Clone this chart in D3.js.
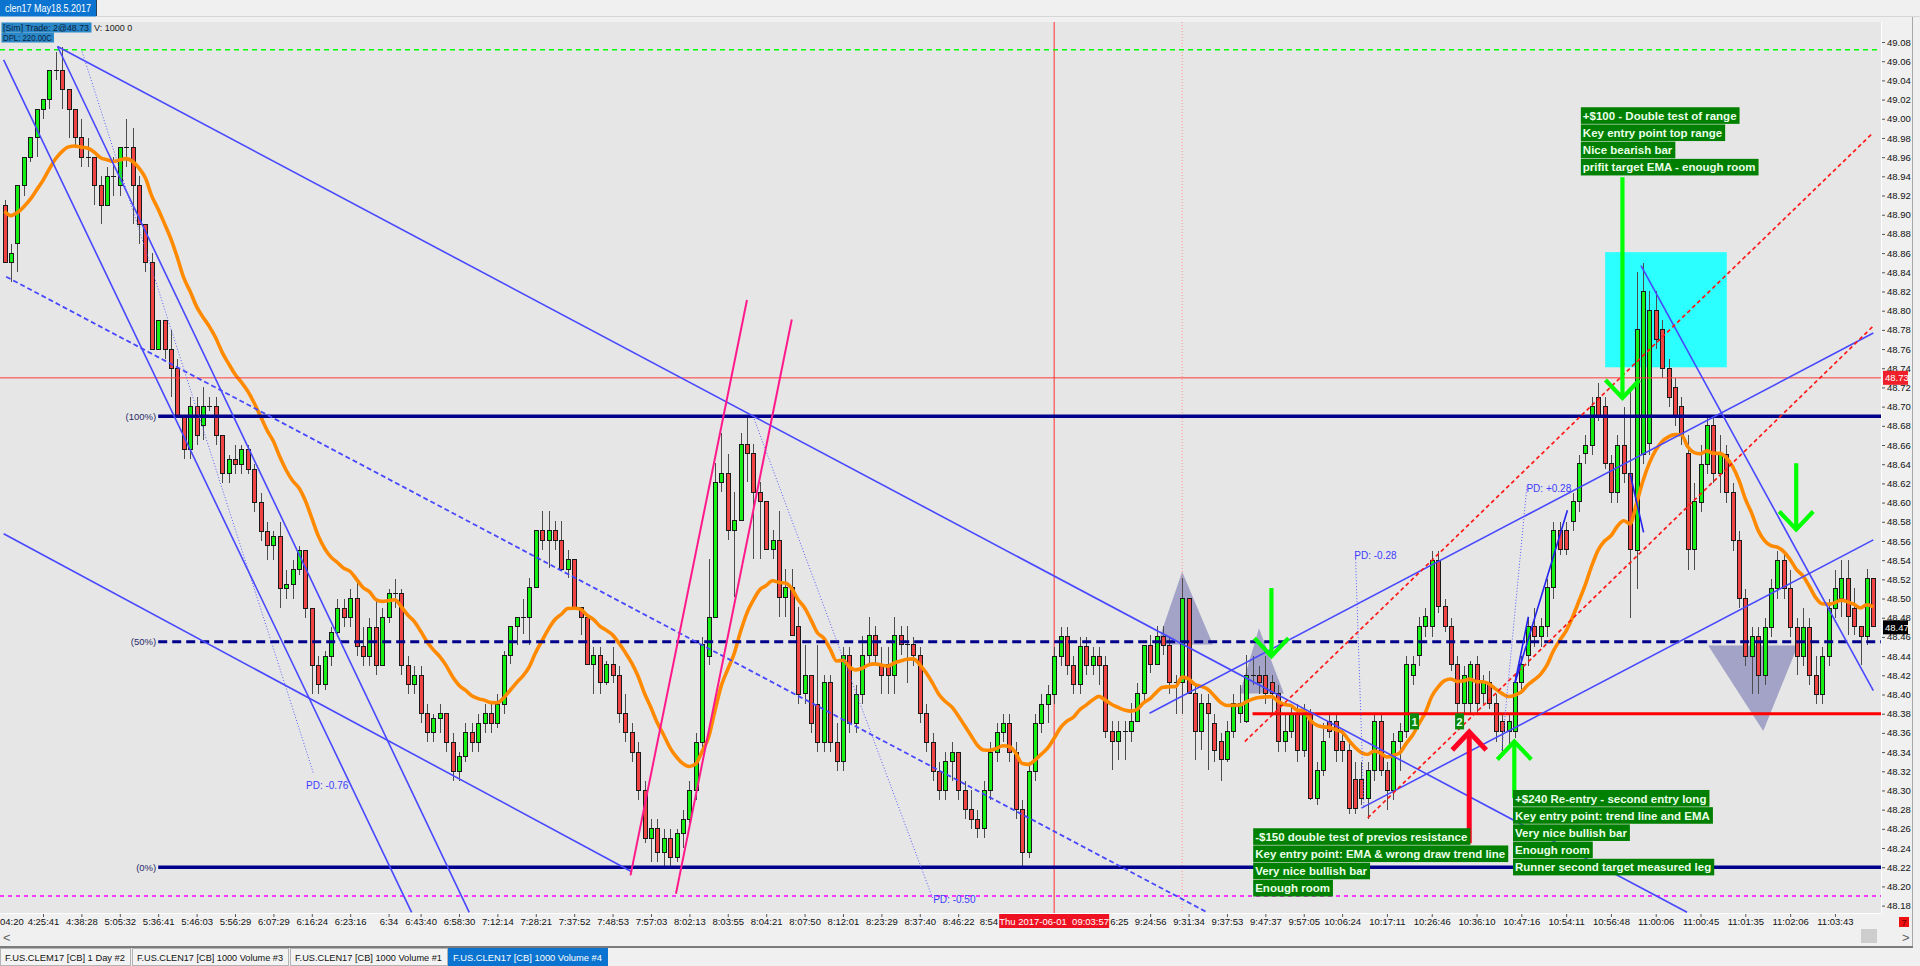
<!DOCTYPE html>
<html><head><meta charset="utf-8"><title>clen17 May18.5.2017</title>
<script src="https://cdn.jsdelivr.net/npm/d3@7/dist/d3.min.js"></script>
<style>
html,body{margin:0;padding:0;background:#f0f0f0;overflow:hidden}
svg{display:block}
text{font-family:"Liberation Sans",Arial,sans-serif}
</style></head><body>
<svg id="chart" width="1920" height="966"></svg>
<script>
// ---------------- DATA ----------------
const opens=[
48.91,48.85,48.87,48.93,48.96,48.98,49.01,49.02,49.05,49.05,
49.03,49.01,48.98,48.96,48.96,48.93,48.91,48.94,48.93,48.97,
48.97,48.93,48.89,48.85,48.76,48.79,48.76,48.74,48.69,48.655,
48.70,48.68,48.70,48.70,48.67,48.63,48.645,48.64,48.655,48.635,
48.60,48.57,48.555,48.565,48.51,48.515,48.53,48.55,48.49,48.43,
48.41,48.44,48.465,48.49,48.48,48.50,48.45,48.44,48.47,48.43,
48.48,48.505,48.505,48.43,48.41,48.42,48.38,48.36,48.375,48.38,
48.35,48.32,48.335,48.36,48.35,48.37,48.38,48.37,48.39,48.441,
48.471,48.48,48.48,48.511,48.571,48.561,48.571,48.561,48.53,48.541,
48.491,48.48,48.431,48.441,48.412,48.431,48.42,48.38,48.36,48.34,
48.30,48.25,48.26,48.235,48.25,48.23,48.255,48.27,48.30,48.35,
48.44,48.48,48.621,48.63,48.571,48.581,48.661,48.651,48.611,48.601,
48.551,48.561,48.501,48.511,48.471,48.401,48.42,48.39,48.35,48.412,
48.35,48.33,48.441,48.37,48.40,48.441,48.461,48.431,48.431,48.42,
48.461,48.452,48.452,48.441,48.38,48.35,48.32,48.30,48.33,48.34,
48.30,48.28,48.27,48.26,48.30,48.34,48.36,48.37,48.34,48.28,
48.235,48.32,48.37,48.39,48.40,48.44,48.46,48.43,48.41,48.45,
48.43,48.44,48.43,48.361,48.351,48.361,48.361,48.372,48.401,48.451,
48.431,48.460,48.451,48.412,48.412,48.500,48.401,48.361,48.391,48.37,
48.351,48.332,48.361,48.38,48.372,48.420,48.420,48.420,48.412,48.401,
48.351,48.361,48.380,48.342,48.380,48.292,48.321,48.372,48.372,48.351,
48.342,48.311,48.311,48.292,48.321,48.372,48.321,48.300,48.351,48.361,
48.420,48.441,48.471,48.471,48.540,48.492,48.471,48.431,48.391,48.391,
48.431,48.401,48.412,48.391,48.372,48.361,48.361,48.412,48.441,48.471,
48.460,48.471,48.511,48.571,48.571,48.580,48.601,48.651,48.660,48.71,
48.70,48.641,48.611,48.66,48.63,48.55,48.65,48.662,48.80,48.78,
48.74,48.72,48.70,48.651,48.551,48.60,48.64,48.68,48.63,48.65,
48.61,48.56,48.50,48.44,48.46,48.42,48.47,48.51,48.54,48.51,
48.47,48.44,48.47,48.42,48.40,48.44,48.49,48.500,48.521,48.490,
48.471,48.460,48.521];
const highs=[
48.915,48.87,48.93,48.96,48.98,49.01,49.02,49.05,49.07,49.075,
49.03,49.01,49.00,48.98,48.96,48.94,48.95,48.96,48.97,49.00,
48.99,48.94,48.89,48.86,48.79,48.79,48.78,48.75,48.69,48.71,
48.71,48.72,48.71,48.71,48.67,48.65,48.66,48.66,48.66,48.64,
48.61,48.58,48.57,48.58,48.53,48.54,48.555,48.55,48.49,48.44,
48.445,48.47,48.50,48.50,48.51,48.52,48.47,48.48,48.50,48.49,
48.51,48.52,48.51,48.44,48.43,48.43,48.39,48.38,48.39,48.38,
48.36,48.34,48.37,48.37,48.38,48.39,48.39,48.40,48.445,48.471,
48.48,48.50,48.521,48.571,48.591,48.591,48.581,48.581,48.551,48.541,
48.491,48.48,48.45,48.45,48.435,48.45,48.43,48.40,48.37,48.35,
48.31,48.27,48.27,48.26,48.26,48.26,48.28,48.31,48.36,48.46,
48.541,48.641,48.672,48.651,48.611,48.672,48.691,48.661,48.621,48.601,
48.571,48.591,48.531,48.531,48.491,48.452,48.42,48.452,48.42,48.42,
48.37,48.45,48.45,48.41,48.461,48.481,48.471,48.45,48.45,48.481,
48.471,48.471,48.46,48.45,48.39,48.36,48.33,48.34,48.35,48.34,
48.31,48.30,48.28,48.31,48.35,48.37,48.38,48.38,48.35,48.29,
48.33,48.38,48.40,48.41,48.45,48.47,48.47,48.44,48.46,48.46,
48.45,48.45,48.44,48.372,48.372,48.372,48.391,48.412,48.451,48.462,
48.471,48.471,48.46,48.42,48.521,48.500,48.412,48.401,48.40,48.38,
48.36,48.372,48.40,48.41,48.441,48.44,48.43,48.44,48.42,48.41,
48.38,48.39,48.39,48.39,48.385,48.33,48.37,48.38,48.38,48.36,
48.35,48.33,48.33,48.33,48.38,48.38,48.33,48.36,48.37,48.44,
48.44,48.481,48.49,48.55,48.55,48.50,48.48,48.44,48.43,48.435,
48.44,48.42,48.425,48.40,48.38,48.38,48.42,48.44,48.48,48.49,
48.48,48.52,48.58,48.58,48.58,48.61,48.65,48.67,48.71,48.725,
48.71,48.65,48.67,48.70,48.72,48.84,48.85,48.82,48.82,48.79,
48.75,48.73,48.71,48.67,48.62,48.66,48.69,48.69,48.67,48.66,
48.62,48.57,48.51,48.47,48.47,48.48,48.52,48.55,48.55,48.53,
48.48,48.49,48.48,48.44,48.45,48.50,48.53,48.540,48.540,48.511,
48.471,48.531,48.521];
const lows=[
48.85,48.83,48.84,48.92,48.955,48.96,49.00,49.01,49.04,49.01,
48.98,48.97,48.95,48.95,48.91,48.89,48.91,48.92,48.92,48.95,
48.89,48.87,48.84,48.76,48.76,48.75,48.71,48.69,48.645,48.645,
48.66,48.665,48.695,48.66,48.62,48.62,48.63,48.63,48.63,48.59,
48.56,48.54,48.54,48.49,48.50,48.50,48.525,48.48,48.40,48.40,
48.405,48.43,48.46,48.47,48.47,48.44,48.43,48.43,48.42,48.43,
48.475,48.49,48.42,48.40,48.40,48.37,48.35,48.35,48.36,48.34,
48.31,48.31,48.33,48.34,48.34,48.36,48.36,48.365,48.38,48.432,
48.452,48.463,48.452,48.511,48.551,48.532,48.551,48.53,48.521,48.491,
48.462,48.431,48.401,48.401,48.41,48.412,48.37,48.35,48.33,48.29,
48.245,48.225,48.225,48.22,48.22,48.225,48.24,48.26,48.29,48.34,
48.431,48.48,48.611,48.561,48.502,48.581,48.621,48.541,48.541,48.551,
48.541,48.481,48.481,48.461,48.39,48.39,48.36,48.34,48.34,48.34,
48.32,48.32,48.36,48.36,48.39,48.432,48.432,48.40,48.40,48.40,
48.441,48.412,48.43,48.37,48.34,48.31,48.29,48.29,48.31,48.29,
48.27,48.26,48.25,48.25,48.29,48.33,48.35,48.33,48.27,48.22,
48.23,48.31,48.36,48.37,48.39,48.43,48.42,48.40,48.40,48.42,
48.42,48.41,48.355,48.321,48.332,48.332,48.351,48.372,48.391,48.422,
48.431,48.441,48.401,48.38,48.38,48.401,48.332,48.342,48.321,48.33,
48.31,48.33,48.355,48.37,48.37,48.41,48.40,48.39,48.38,48.34,
48.34,48.355,48.33,48.335,48.29,48.285,48.315,48.355,48.33,48.33,
48.275,48.275,48.285,48.27,48.31,48.315,48.28,48.29,48.32,48.355,
48.41,48.43,48.46,48.46,48.485,48.465,48.425,48.38,48.38,48.38,
48.38,48.39,48.385,48.35,48.34,48.345,48.355,48.40,48.43,48.45,
48.45,48.46,48.50,48.545,48.545,48.57,48.59,48.64,48.65,48.685,
48.635,48.60,48.60,48.62,48.48,48.51,48.64,48.65,48.76,48.73,
48.70,48.68,48.66,48.53,48.53,48.59,48.63,48.62,48.61,48.60,
48.55,48.49,48.43,48.40,48.40,48.41,48.46,48.50,48.50,48.46,
48.42,48.43,48.41,48.39,48.39,48.43,48.48,48.481,48.462,48.462,
48.431,48.452,48.471];
const closes=[
48.85,48.86,48.93,48.96,48.98,49.01,49.02,49.05,49.05,49.03,
49.01,48.98,48.96,48.96,48.93,48.91,48.94,48.94,48.97,48.97,
48.93,48.89,48.85,48.76,48.79,48.76,48.74,48.69,48.655,48.70,
48.67,48.70,48.70,48.67,48.63,48.645,48.64,48.655,48.635,48.60,
48.57,48.555,48.565,48.51,48.515,48.53,48.55,48.49,48.43,48.41,
48.44,48.465,48.49,48.48,48.50,48.45,48.44,48.47,48.43,48.48,
48.505,48.505,48.43,48.41,48.42,48.38,48.36,48.375,48.38,48.35,
48.32,48.335,48.36,48.35,48.37,48.38,48.37,48.39,48.441,48.471,
48.48,48.48,48.511,48.571,48.561,48.571,48.561,48.53,48.541,48.491,
48.48,48.431,48.441,48.412,48.431,48.42,48.38,48.36,48.34,48.30,
48.25,48.26,48.235,48.25,48.23,48.255,48.27,48.30,48.35,48.452,
48.48,48.621,48.63,48.571,48.581,48.661,48.651,48.611,48.601,48.551,
48.561,48.501,48.511,48.461,48.40,48.42,48.37,48.35,48.412,48.35,
48.33,48.441,48.37,48.40,48.441,48.461,48.441,48.42,48.42,48.461,
48.452,48.452,48.441,48.38,48.35,48.32,48.30,48.33,48.34,48.30,
48.28,48.27,48.26,48.30,48.34,48.36,48.37,48.34,48.28,48.235,
48.32,48.37,48.39,48.40,48.44,48.46,48.43,48.41,48.45,48.43,
48.44,48.43,48.361,48.351,48.361,48.361,48.372,48.401,48.451,48.431,
48.460,48.451,48.412,48.412,48.500,48.401,48.361,48.391,48.38,48.342,
48.332,48.361,48.391,48.391,48.420,48.420,48.412,48.401,48.401,48.351,
48.361,48.380,48.342,48.380,48.292,48.321,48.351,48.361,48.342,48.342,
48.281,48.281,48.292,48.321,48.372,48.321,48.300,48.351,48.361,48.431,
48.431,48.471,48.481,48.540,48.492,48.471,48.431,48.391,48.420,48.431,
48.391,48.412,48.391,48.361,48.361,48.372,48.412,48.431,48.471,48.460,
48.471,48.511,48.571,48.551,48.551,48.601,48.641,48.660,48.700,48.69,
48.641,48.611,48.660,48.63,48.551,48.78,48.82,48.80,48.77,48.74,
48.71,48.69,48.67,48.551,48.601,48.64,48.68,48.63,48.65,48.61,
48.56,48.50,48.44,48.46,48.42,48.47,48.51,48.54,48.51,48.47,
48.44,48.47,48.42,48.40,48.44,48.49,48.51,48.521,48.481,48.471,
48.460,48.521,48.471];

const priceTicks=[48.18,48.20,48.22,48.24,48.26,48.28,48.30,48.32,48.34,48.36,48.38,48.40,48.42,48.44,48.46,48.48,
48.50,48.52,48.54,48.56,48.58,48.60,48.62,48.64,48.66,48.68,48.70,48.72,48.74,48.76,48.78,48.80,48.82,48.84,
48.86,48.88,48.90,48.92,48.94,48.96,48.98,49.00,49.02,49.04,49.06,49.08];
const timeTickIdx=[6,12,18,24,30,36,42,48,54,60,65,71,77,83,89,95,101,107,113,119,125,131,137,143,149,
179,185,191,197,203,209,216,223,230,237,244,251,258,265,272,279,286];
const timeLabels=["4:25:41","4:38:28","5:05:32","5:36:41","5:46:03","5:56:29","6:07:29","6:16:24","6:23:16","6:34",
"6:43:40","6:58:30","7:12:14","7:28:21","7:37:52","7:48:53","7:57:03","8:02:13","8:03:55","8:04:21","8:07:50",
"8:12:01","8:23:29","8:37:40","8:46:22","9:24:56","9:31:34","9:37:53","9:47:37","9:57:05","10:06:24","10:17:11",
"10:26:46","10:36:10","10:47:16","10:54:11","10:56:48","11:00:06","11:00:45","11:01:35","11:02:06","11:03:43"];

const emaPeriod=18, emaSeed=48.91;
const fibLevels=[48.69,48.455,48.22];
const fibLabels=["(100%)","(50%)","(0%)"];
const fibStartIdx=24;
const greenDashLevel=49.072, magentaDashLevel=48.19, redThinLevel=48.73;
const redThickLevel=48.38, redThickStartIdx=195;
const cursorIdx=164, dottedVIdx=184;
const lastPrice=48.47;

// drawn objects: [i1, p1, i2, p2]
const blueLines=[[8.27,49.0753,262.9,48.173],[-0.15,49.0613,63.6,48.173],[8.27,49.0753,72.6,48.173],
[-0.15,48.5675,98.0,48.2153],[178.9,48.3805,292.0,48.7767],[212.0,48.2816,292.0,48.5611],[255.7,48.847,292.0,48.404]];
const blueDashedLines=[[0.24,48.8354,187.9,48.173]];
const redDashedLines=[[193.8,48.351,291.9,48.985],[213.0,48.2714,291.9,48.7834]];
const pinkLines=[[97.8,48.2115,116.0,48.8112],[104.9,48.1924,123.0,48.7908]];
const pdLines=[[12.1,49.070,48.3,48.317],[116.95,48.690,145.1,48.186],[211.1,48.541,212.4,48.282],[233.9,48.339,237.9,48.619]];
const pdLabelIdx=[47.1,145.1,210.9,237.8];
const pdLabelPrice=[48.305,48.186,48.545,48.615];
const pdLabelText=["PD: -0.76","PD: -0.50","PD: -0.28","PD: +0.28"];
const swingLines=[[236.0,48.412,238.1,48.481],[236.0,48.412,244.2,48.592],[254.0,48.630,256.1,48.569]];
const triangles=[[[184.0,48.528],[180.1,48.452],[188.8,48.452]],
[[196.0,48.469],[193.0,48.401],[199.9,48.401]],
[[266.2,48.451],[280.2,48.451],[274.8,48.362]]];
const cyanRect=[250.1,48.861,269.1,48.741];
// arrows: [idx, tailPrice, tipPrice]
const greenArrows=[[197.95,48.511,48.440],[235.9,48.292,48.351],[252.8,48.939,48.709],[279.95,48.641,48.572]];
const redArrows=[[228.86,48.245,48.361]];
const markerIdx=[220.3,227.35], markerPrice=48.372, markerText=["1","2"];
const noteIdx=[246.3,195.1,235.7];
const notePrice=[49.012,48.2606,48.3005];
const noteLines=[
["+$100 - Double test of range","Key entry point top range","Nice bearish bar","prifit target EMA - enough room"],
["-$150 double test of previos resistance","Key entry point: EMA & wrong draw trend line","Very nice bullish bar","Enough room"],
["+$240 Re-entry - second entry long","Key entry point: trend line and EMA","Very nice bullish bar","Enough room","Runner second target measured leg"]];

// ---------------- LAYOUT ----------------
const N=opens.length;
const PL=0, PR=1881, PT=22, PB=913;
const svg=d3.select('#chart');
const x=d3.scaleLinear().domain([-0.72,293.2]).range([PL,PR]);
const y=d3.scaleLinear().domain([48.18,49.08]).range([905.6,42]);

// window background
svg.append('rect').attr('x',0).attr('y',0).attr('width',1920).attr('height',966).attr('fill','#f0f0f0');
// header tab
svg.append('rect').attr('x',0).attr('y',0).attr('width',96).attr('height',16.5).attr('fill','#0b74d0');
svg.append('line').attr('x1',96.5).attr('x2',96.5).attr('y1',0).attr('y2',16.5).attr('stroke','#2b3f55');
svg.append('text').attr('x',5).attr('y',12.3).attr('font-size',10.5).attr('fill','#ffffff')
  .attr('textLength',86).attr('lengthAdjust','spacingAndGlyphs').text('clen17 May18.5.2017');
svg.append('line').attr('x1',96).attr('x2',1920).attr('y1',16.5).attr('y2',16.5).attr('stroke','#d6d6d6');

// plot background
svg.append('rect').attr('x',PL).attr('y',PT).attr('width',PR-PL).attr('height',PB-PT).attr('fill','#e6e6e6');
svg.append('defs').append('clipPath').attr('id','pc').append('rect').attr('x',PL).attr('y',PT).attr('width',PR-PL).attr('height',PB-PT);
const plot=svg.append('g').attr('clip-path','url(#pc)');

const seg=(g,d,stroke,w,dash)=>g.append('line').attr('x1',x(d[0])).attr('y1',y(d[1])).attr('x2',x(d[2])).attr('y2',y(d[3]))
  .attr('stroke',stroke).attr('stroke-width',w).attr('stroke-dasharray',dash||null);

// cyan box
plot.append('rect').attr('x',x(cyanRect[0])).attr('y',y(cyanRect[1])).attr('width',x(cyanRect[2])-x(cyanRect[0]))
  .attr('height',y(cyanRect[3])-y(cyanRect[1])).attr('fill','#2cffff');
// triangles
plot.selectAll('path.tri').data(triangles).join('path').attr('class','tri')
  .attr('d',t=>d3.line().x(p=>x(p[0])).y(p=>y(p[1]))(t)+'Z').attr('fill','#5a5aa6').attr('fill-opacity',0.48);

// vertical lines
plot.append('line').attr('x1',x(cursorIdx)).attr('x2',x(cursorIdx)).attr('y1',PT).attr('y2',PB).attr('stroke','#ff3030').attr('stroke-width',1);
plot.append('line').attr('x1',x(dottedVIdx)).attr('x2',x(dottedVIdx)).attr('y1',PT).attr('y2',PB).attr('stroke','#ff9090').attr('stroke-width',1).attr('stroke-dasharray','1,2');

// candles
const cg=plot.append('g').attr('shape-rendering','crispEdges');
const idx=d3.range(N);
cg.selectAll('line.w').data(idx).join('line').attr('class','w')
  .attr('x1',i=>Math.round(x(i))+0.5).attr('x2',i=>Math.round(x(i))+0.5)
  .attr('y1',i=>y(Math.max(highs[i],opens[i],closes[i]))).attr('y2',i=>y(Math.min(lows[i],opens[i],closes[i])))
  .attr('stroke','#4d4d4d').attr('stroke-width',1);
cg.selectAll('rect.b').data(idx.filter(i=>Math.abs(opens[i]-closes[i])>0.0005)).join('rect').attr('class','b')
  .attr('x',i=>Math.round(x(i))-1.5).attr('width',4)
  .attr('y',i=>y(Math.max(opens[i],closes[i]))).attr('height',i=>Math.max(1,Math.abs(y(opens[i])-y(closes[i]))))
  .attr('fill',i=>closes[i]>opens[i]?'#14f014':'#f04444').attr('stroke','#1a1a1a').attr('stroke-width',1);
cg.selectAll('line.dj').data(idx.filter(i=>Math.abs(opens[i]-closes[i])<=0.0005)).join('line').attr('class','dj')
  .attr('x1',i=>Math.round(x(i))-2).attr('x2',i=>Math.round(x(i))+3).attr('y1',i=>y(opens[i])).attr('y2',i=>y(opens[i]))
  .attr('stroke','#1a1a1a').attr('stroke-width',1);

// EMA
let e=emaSeed; const k=2/(emaPeriod+1);
const ema=closes.map(c=>{e=e+k*(c-e);return e;});
plot.append('path').datum(ema).attr('d',d3.line().x((d,i)=>x(i)).y(d=>y(d)).curve(d3.curveMonotoneX))
  .attr('fill','none').attr('stroke','#ff8a00').attr('stroke-width',3.6).attr('stroke-linejoin','round');

// horizontal levels
const hl=(p,x1,stroke,w,dash)=>plot.append('line').attr('x1',x1).attr('x2',PR).attr('y1',y(p)).attr('y2',y(p))
  .attr('stroke',stroke).attr('stroke-width',w).attr('stroke-dasharray',dash||null);
hl(greenDashLevel,0,'#00ff00',1.5,'5,4');
hl(magentaDashLevel,0,'#ff00ff',1.5,'4,4');
hl(redThinLevel,0,'#ff3a3a',1);
fibLevels.forEach((p,j)=>{
  hl(p,x(fibStartIdx),'#00008b',j===1?3:3.5,j===1?'9,5':null);
  plot.append('text').attr('x',x(fibStartIdx)-2).attr('y',y(p)+3.5).attr('text-anchor','end').attr('font-size',9.5)
    .attr('fill','#2a2a6a').text(fibLabels[j]);
});
hl(redThickLevel,x(redThickStartIdx),'#ff0000',3);

// trend lines
blueLines.forEach(d=>seg(plot,d,'#4848ff',1.6));
blueDashedLines.forEach(d=>seg(plot,d,'#4848ff',1.8,'5,3'));
redDashedLines.forEach(d=>seg(plot,d,'#ff1a1a',1.7,'4,3'));
pinkLines.forEach(d=>seg(plot,d,'#ff1a8c',2));
pdLines.forEach(d=>seg(plot,d,'#5a5aff',1,'1,2'));
swingLines.forEach(d=>seg(plot,d,'#2222ee',1.6));
pdLabelText.forEach((t,j)=>plot.append('text').attr('x',x(pdLabelIdx[j])).attr('y',y(pdLabelPrice[j])+3.5)
  .attr('font-size',10).attr('fill','#3c3cff').text(t));

// markers 1 / 2
markerIdx.forEach((m,j)=>{
  plot.append('rect').attr('x',x(m)-4.5).attr('y',y(markerPrice)-8).attr('width',9).attr('height',16).attr('fill','#0a8a0a');
  plot.append('text').attr('x',x(m)).attr('y',y(markerPrice)+4.5).attr('text-anchor','middle').attr('font-size',11)
    .attr('font-weight','bold').attr('fill','#e8ffe8').text(markerText[j]);
});

// arrows
function arrow(a,color,w){
  const xx=x(a[0]), y1=y(a[1]), y2=y(a[2]); const dir=y2>y1?1:-1;
  plot.append('line').attr('x1',xx).attr('x2',xx).attr('y1',y1).attr('y2',y2).attr('stroke',color).attr('stroke-width',w);
  plot.append('path').attr('d',`M${xx-17},${y2-dir*18}L${xx},${y2}L${xx+17},${y2-dir*18}`).attr('fill','none')
    .attr('stroke',color).attr('stroke-width',w).attr('stroke-linejoin','miter');
}
greenArrows.forEach(a=>arrow(a,'#00ff00',4.2));
redArrows.forEach(a=>arrow(a,'#ff0022',5));

// note boxes
noteLines.forEach((lines,j)=>{
  const x0=x(noteIdx[j]), y0=y(notePrice[j]);
  lines.forEach((t,r)=>{
    const top=y0+r*17.2;
    const bg=plot.append('rect').attr('x',x0).attr('y',top).attr('height',16.6).attr('fill','#008000');
    const tx=plot.append('text').attr('x',x0+2).attr('y',top+12.6).attr('font-size',11.5).attr('font-weight','bold')
      .attr('fill','#eaffea').text(t);
    bg.attr('width',tx.node().getComputedTextLength()+5);
  });
});

// info box
const info=svg.append('g');
info.append('rect').attr('x',1.5).attr('y',22.5).attr('width',90).attr('height',10).attr('fill','#2a88c8');
info.append('text').attr('x',3).attr('y',31).attr('font-size',9).attr('fill','#0a1f3d')
  .attr('textLength',86).attr('lengthAdjust','spacingAndGlyphs').text('[Sim] Trade: 2@48.73');
info.append('text').attr('x',94).attr('y',31).attr('font-size',9).attr('fill','#222').text('V: 1000 0');
info.append('rect').attr('x',1.5).attr('y',32.5).attr('width',52.5).attr('height',10).attr('fill','#2a88c8');
info.append('text').attr('x',3).attr('y',41).attr('font-size',9).attr('fill','#0a1f3d')
  .attr('textLength',49).attr('lengthAdjust','spacingAndGlyphs').text('DPL: 220.00C');

// plot borders
svg.append('line').attr('x1',PR+0.5).attr('x2',PR+0.5).attr('y1',PT).attr('y2',PB).attr('stroke','#ffffff');
svg.append('line').attr('x1',0).attr('x2',PR).attr('y1',PB+0.5).attr('y2',PB+0.5).attr('stroke','#ffffff');

// price axis
const yAxis=d3.axisRight(y).tickValues(priceTicks).tickFormat(d3.format('.2f')).tickSize(3).tickPadding(2);
const ya=svg.append('g').attr('transform',`translate(${PR+1},0)`).call(yAxis);
ya.select('.domain').remove();
ya.selectAll('line').attr('stroke','#555');
ya.selectAll('text').attr('font-size',9.5).attr('font-family','"Liberation Sans",Arial,sans-serif').attr('fill','#111');
function priceTag(p,bg){
  svg.append('rect').attr('x',PR+2).attr('y',y(p)-7).attr('width',25).attr('height',14).attr('fill',bg);
  svg.append('text').attr('x',PR+4).attr('y',y(p)+3.5).attr('font-size',9.5).attr('fill','#ffffff').text(d3.format('.2f')(p));
}
priceTag(redThinLevel,'#f0202a');
priceTag(lastPrice,'#000000');

// time axis
const xAxis=d3.axisBottom(x).tickValues(timeTickIdx).tickFormat((d,j)=>timeLabels[j]).tickSize(3).tickPadding(1);
const xa=svg.append('g').attr('transform',`translate(0,${PB+1})`).call(xAxis);
xa.select('.domain').remove();
xa.selectAll('line').attr('stroke','#555');
xa.selectAll('text').attr('font-size',9.5).attr('font-family','"Liberation Sans",Arial,sans-serif').attr('fill','#111');
svg.append('text').attr('x',0).attr('y',925).attr('font-size',9.5).attr('fill','#111').text('04:20');
const bx0=x(cursorIdx)-55, bx1=x(cursorIdx)+55;
svg.append('text').attr('x',bx0-1).attr('y',925).attr('text-anchor','end').attr('font-size',9.5).attr('fill','#111').text('8:54');
svg.append('text').attr('x',bx1+1).attr('y',925).attr('font-size',9.5).attr('fill','#111').text('6:25');
svg.append('rect').attr('x',bx0).attr('y',914).attr('width',bx1-bx0).attr('height',14).attr('fill','#ee1122');
svg.append('text').attr('x',x(cursorIdx)).attr('y',925).attr('text-anchor','middle').attr('font-size',9.5).attr('fill','#ffffff')
  .style('white-space','pre').text('Thu 2017-06-01  09:03:57');

// right border, corner icon, scrollbar
svg.append('line').attr('x1',1912.5).attr('x2',1912.5).attr('y1',17).attr('y2',947).attr('stroke','#a8a8a8');
svg.append('rect').attr('x',1899).attr('y',917).attr('width',10).attr('height',10).attr('fill','#ee1111');
svg.append('text').attr('x',1904).attr('y',926).attr('text-anchor','middle').attr('font-size',9).attr('fill','#6a0000').text('7');
svg.append('text').attr('x',3).attr('y',942).attr('font-size',13).attr('fill','#606060').text('<');
svg.append('text').attr('x',1902).attr('y',942).attr('font-size',13).attr('fill','#606060').text('>');
svg.append('rect').attr('x',1861).attr('y',929).attr('width',16).attr('height',14).attr('fill','#cdcdcd');
svg.append('line').attr('x1',0).attr('x2',1913).attr('y1',947).attr('y2',947).attr('stroke','#7c7c7c').attr('stroke-width',2);

// bottom tabs
const tabs=[["F.US.CLEM17 [CB] 1 Day #2",0,130],["F.US.CLEN17 [CB] 1000 Volume #3",132,288],
["F.US.CLEN17 [CB] 1000 Volume #1",290,447],["F.US.CLEN17 [CB] 1000 Volume #4",448,607]];
tabs.forEach((t,j)=>{
  const sel=j===3;
  svg.append('rect').attr('x',t[1]+0.5).attr('y',948.5).attr('width',t[2]-t[1]).attr('height',17)
    .attr('fill',sel?'#0b74d0':'#f3f3f3').attr('stroke',sel?'#0b74d0':'#b4b4b4');
  svg.append('text').attr('x',t[1]+5).attr('y',961).attr('font-size',9.5).attr('fill',sel?'#ffffff':'#111')
    .attr('textLength',t[2]-t[1]-10).attr('lengthAdjust','spacingAndGlyphs').text(t[0]);
});
</script>
</body></html>
